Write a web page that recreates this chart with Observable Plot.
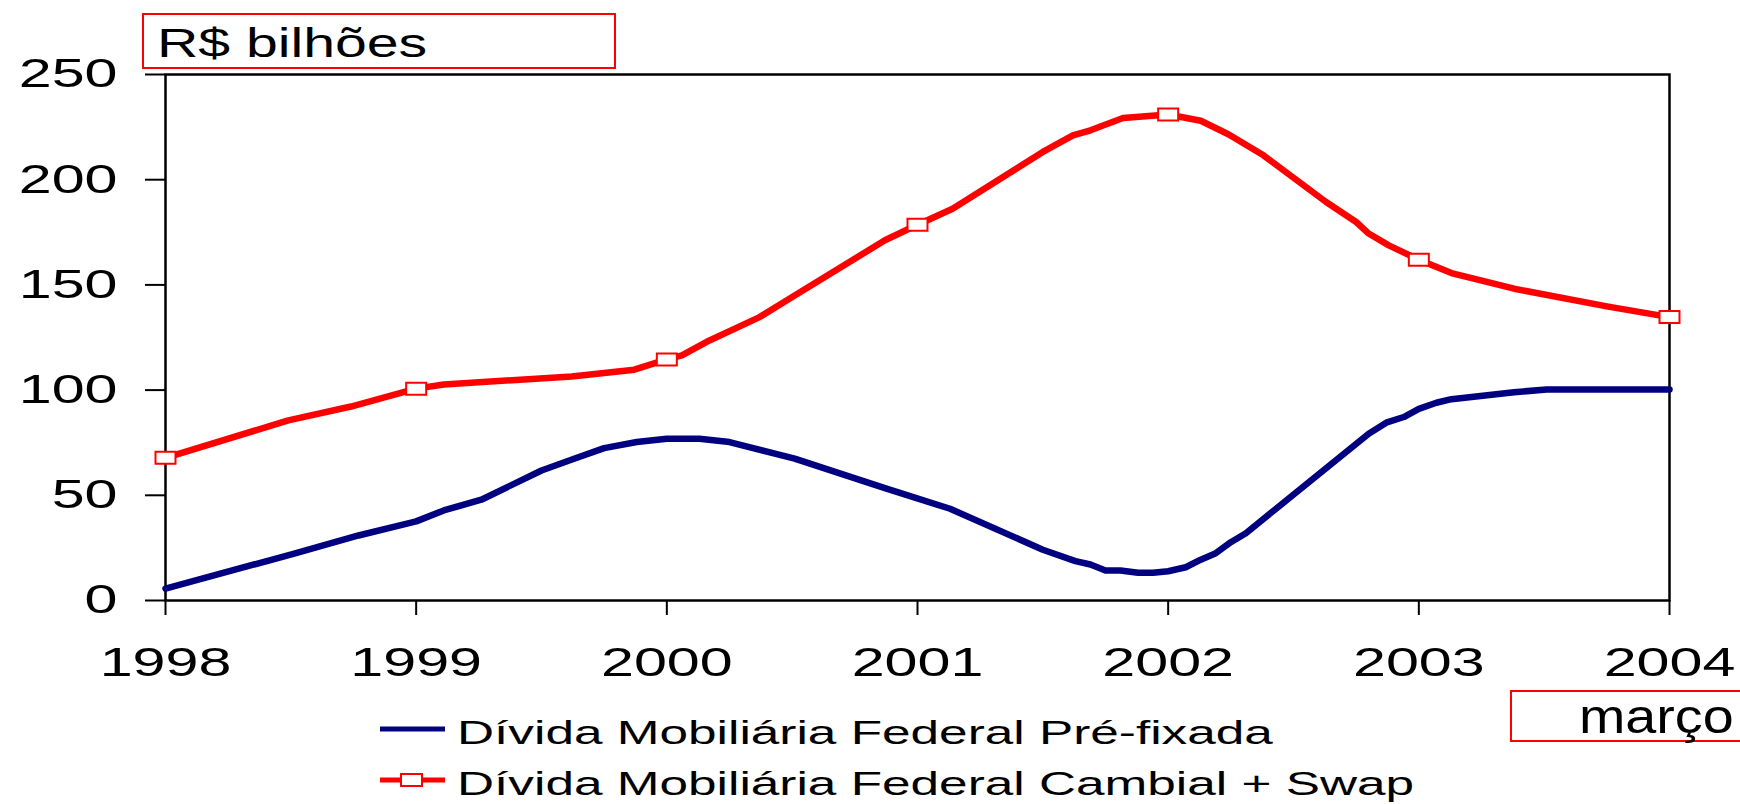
<!DOCTYPE html>
<html>
<head>
<meta charset="utf-8">
<script src="https://cdn.jsdelivr.net/npm/d3@7"></script>
<script src="https://cdn.jsdelivr.net/npm/@observablehq/plot@0.6"></script>
<style>
  html, body { margin: 0; padding: 0; background: #ffffff; }
  #wrap { position: relative; width: 1740px; height: 804px; overflow: hidden; background: #ffffff; }
  #chart { position: absolute; left: 0; top: 0; }
  #chart svg { display: block; }
  #overlay { position: absolute; left: 0; top: 0; pointer-events: none; }
  g[aria-label="x-axis tick"], g[aria-label="y-axis tick"] { stroke: #000; stroke-width: 2px; }
</style>
</head>
<body>
<div id="wrap">
  <div id="chart"></div>
  <svg id="overlay" width="1740" height="804"></svg>
</div>
<script>
// ---- data ----
const years = [1998, 1999, 2000, 2001, 2002, 2003, 2004];
const yTicks = [0, 50, 100, 150, 200, 250];
const unitLabel = "R$ bilhões";
const lastLabel = "março";
const seriesNames = [
  "Dívida Mobiliária Federal Pré-fixada",
  "Dívida Mobiliária Federal Cambial + Swap"
];

// Pré-fixada (blue)
const blueX = [1998, 1998.51, 1998.77, 1999, 1999.11, 1999.26, 1999.5, 1999.63, 1999.75, 1999.88,
               2000, 2000.13, 2000.25, 2000.51, 2000.87, 2001.13, 2001.5, 2001.63, 2001.69, 2001.75,
               2001.81, 2001.88, 2001.94, 2002, 2002.07, 2002.13, 2002.19, 2002.25, 2002.31, 2002.8,
               2002.87, 2002.94, 2003, 2003.07, 2003.13, 2003.38, 2003.51, 2004];
const blueY = [5.6, 22.2, 30.9, 37.6, 42.8, 47.9, 61.8, 67.4, 72.4, 75.3,
               76.9, 76.9, 75.3, 67.4, 53.4, 43.6, 24.1, 18.7, 17.1, 14.3,
               14.3, 13.2, 13.2, 13.9, 15.8, 19.4, 22.5, 27.7, 32.0, 79.3,
               84.5, 87.2, 91.1, 94.0, 95.7, 99.0, 100.3, 100.3];

// Cambial + Swap (red)
const redX = [1998, 1998.49, 1998.74, 1999, 1999.11, 1999.62, 1999.87, 2000, 2000.06, 2000.17,
              2000.37, 2000.51, 2000.87, 2001, 2001.14, 2001.5, 2001.62, 2001.69, 2001.82, 2002,
              2002.13, 2002.24, 2002.38, 2002.63, 2002.75, 2002.8, 2002.88, 2003, 2003.13, 2003.38,
              2003.75, 2004];
const redY = [67.8, 85.6, 92.2, 100.7, 102.7, 106.5, 109.7, 114.6, 116.5, 123.6,
              134.7, 145.0, 171.2, 178.6, 186.2, 213.2, 221.1, 223.5, 229.3, 231.0,
              228.0, 221.6, 211.6, 189.4, 179.9, 174.4, 168.8, 162.0, 155.6, 148.2,
              139.8, 134.7];

// yearly markers on the red series
const markerValues = [67.8, 100.7, 114.6, 178.6, 231.0, 162.0, 134.7];

// ---- build tables ----
const blue = blueX.map((x, i) => ({x, y: blueY[i]}));
const red = redX.map((x, i) => ({x, y: redY[i]}));
const markers = years.map((x, i) => ({x, y: markerValues[i]}));

const NAVY = "#000080";
const RED = "#ff0000";
const FONT = '"Liberation Sans", Arial, Helvetica, sans-serif';

// flat rectangle marker (wider than tall)
const rectSymbol = {
  draw(ctx) {
    ctx.moveTo(-10, -6); ctx.lineTo(10, -6); ctx.lineTo(10, 6); ctx.lineTo(-10, 6); ctx.closePath();
  }
};

const chart = Plot.plot({
  width: 1740,
  height: 690,
  marginTop: 74,
  marginLeft: 165,
  marginRight: 71,
  marginBottom: 90,
  style: {fontFamily: FONT, fontSize: "40px", color: "#000", background: "#fff", overflow: "visible"},
  x: {domain: [1998, 2004], ticks: years, tickFormat: d => String(d), tickSize: 15, tickPadding: 32, label: null},
  y: {domain: [0, 250], ticks: yTicks, tickSize: 20, tickPadding: 28, label: null},
  marks: [
    Plot.frame({stroke: "#000", strokeWidth: 2.5}),
    Plot.line(blue, {x: "x", y: "y", stroke: NAVY, strokeWidth: 6.5}),
    Plot.line(red, {x: "x", y: "y", stroke: RED, strokeWidth: 6.5}),
    Plot.dot(markers, {x: "x", y: "y", symbol: rectSymbol, fill: "#fff", stroke: RED, strokeWidth: 2})
  ]
});
document.getElementById("chart").appendChild(chart);

// stretch tick label text horizontally, like the reference
chart.querySelectorAll('g[aria-label="x-axis tick label"] text, g[aria-label="y-axis tick label"] text').forEach(t => {
  const tr = t.getAttribute("transform") || "";
  t.setAttribute("transform", tr + " scale(1.48,1)");
});

// ---- overlay: unit box, "março" box, legend ----
const ov = d3.select("#overlay");
ov.style("font-family", FONT);

// unit box
ov.append("rect").attr("x", 143).attr("y", 14).attr("width", 472).attr("height", 54)
  .attr("fill", "#fff").attr("stroke", RED).attr("stroke-width", 2);
ov.append("text").attr("transform", "translate(157,57) scale(1.43,1)")
  .attr("font-size", 40).attr("fill", "#000").text(unitLabel);

// "março" box
ov.append("rect").attr("x", 1511).attr("y", 691).attr("width", 250).attr("height", 50)
  .attr("fill", "#fff").attr("stroke", RED).attr("stroke-width", 2);
ov.append("text").attr("transform", "translate(1579,733) scale(1.16,1)")
  .attr("font-size", 48).attr("fill", "#000").text(lastLabel);

// legend
const legY = [729, 780];
const legColors = [NAVY, RED];
seriesNames.forEach((name, i) => {
  const y = legY[i];
  ov.append("line").attr("x1", 380).attr("x2", 445).attr("y1", y).attr("y2", y)
    .attr("stroke", legColors[i]).attr("stroke-width", 5);
  if (i === 1) {
    ov.append("rect").attr("x", 401).attr("y", y - 6).attr("width", 21).attr("height", 12)
      .attr("fill", "#fff").attr("stroke", RED).attr("stroke-width", 2);
  }
  ov.append("text").attr("transform", `translate(457,${y + 15}) scale(1.51,1)`)
    .attr("font-size", 34).attr("fill", "#000").text(name);
});
</script>
</body>
</html>
